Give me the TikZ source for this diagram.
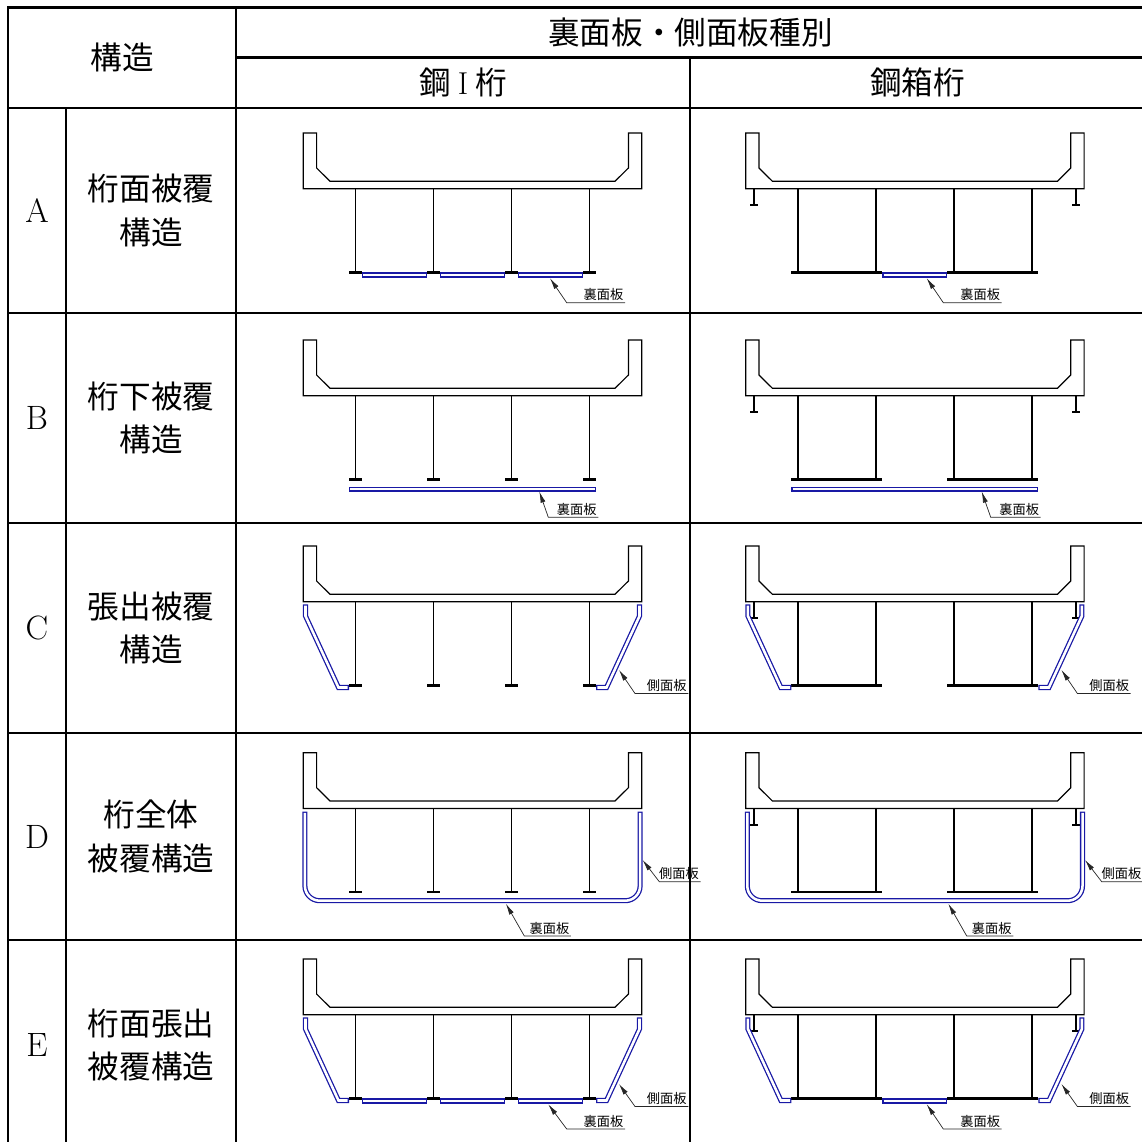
\documentclass[tikz,border=0pt]{standalone}
\usepackage{fontspec}
\newfontfamily\jp{Noto Sans CJK JP}
\usetikzlibrary{arrows.meta}
\definecolor{plateblue}{RGB}{25,25,165}

\begin{document}
\begin{tikzpicture}[x=0.025cm, y=-0.025cm,
    rule/.style={line width=1.7pt},
    deckline/.style={line width=0.85pt, line join=miter},
    web/.style={line width=1.25pt},
    flange/.style={line width=1.6pt},
    plate/.style={draw=plateblue, line width=3.6pt,
        postaction={draw=white, line width=1.8pt, shorten <=0.9pt, shorten >=0.9pt}},
    leader/.style={black!85, line width=0.5pt, -{Latex[length=8pt,width=3.6pt]}},
    tag/.style={font=\jp\fontsize{9.4}{10}\selectfont, inner sep=1pt, anchor=south east},
    big/.style={font=\jp\fontsize{22.5}{31}\selectfont, align=center},
    letter/.style={font=\fontsize{24}{28}\selectfont},
    deck/.pic={
        \draw[deckline] (-169.2,0) -- (-155.9,0) -- (-155.9,35) -- (-142.5,48.3)
            -- (142.5,48.3) -- (155.9,35) -- (155.9,0) -- (169.2,0)
            -- (169.2,55.7) -- (-169.2,55.7) -- cycle;
    },
    igirder/.pic={
        \foreach \x in {-117,-39,39,117} {
            \draw[web] (\x,55.7) -- (\x,139.5);
            \draw[flange] (\x-6.5,139.5) -- (\x+6.5,139.5);
        }
    },
    boxgirder/.pic={
        \foreach \x in {-117,-39,39,117}
            \draw[web] (\x,55.7) -- (\x,139.5);
        \draw[flange] (-123.5,139.5) -- (-32.5,139.5) (32.5,139.5) -- (123.5,139.5);
        \foreach \s in {-1,1} {
            \draw[web] (\s*161,55.7) -- (\s*161,72);
            \draw[flange] (\s*161-3.8,72) -- (\s*161+3.8,72);
        }
    }]
    \useasboundingbox (0,0) rectangle (1142,1142);
    \clip (0,0) rectangle (1142,1142);

    % Header
    \node[big] (hs) at (122,57.75) {構造};
    \node[big] (hk) at (690.5,32.5) {裏面板・側面板種別};
    \node[big] (hi) at (463,82.75) {鋼\hspace{5pt}{\rmfamily I}\hspace{5pt}桁};
    \node[big] (hb) at (917.5,82.75) {鋼箱桁};

    % Row labels
    \foreach \n/\t/\y in {A/桁面被覆\\構造/210.5, B/桁下被覆\\構造/418,
        C/張出被覆\\構造/628, D/桁全体\\被覆構造/836.5, E/桁面張出\\被覆構造/1045} {
        \node[letter] (r\n) at (37,\y) {\n};
        \node[big] (n\n) at (151,\y) {\t};
    }

    % Decks and girders
    \foreach \y in {133,340,546,752.7,959} {
        \pic at (472.5,\y) {deck};
        \pic at (472.5,\y) {igirder};
        \pic at (914.9,\y) {deck};
        \pic at (914.9,\y) {boxgirder};
    }

    % A: plates between the girders
    \begin{scope}[shift={(472.5,133)}]
        \foreach \a/\b in {-110.5/-45.5,-32.5/32.5,45.5/110.5}
            \draw[plate] (\a,142) -- (\b,142);
        \coordinate (tAi) at (77.5,145.3);
        \node[tag] (uAi) at (152.5,169.7) {裏面板};
        \draw[leader] (uAi.south east) -- (94.2,169.7) -- (tAi);
    \end{scope}
    \begin{scope}[shift={(914.9,133)}]
        \draw[plate] (-32.5,142) -- (32.5,142);
        \coordinate (tAb) at (11.8,145.3);
        \node[tag] (uAb) at (86.8,169.7) {裏面板};
        \draw[leader] (uAb.south east) -- (28.4,169.7) -- (tAb);
    \end{scope}

    % B: one plate under the girders
    \foreach \cx/\c in {472.5/i,914.9/b} {
        \begin{scope}[shift={(\cx,340)}]
            \draw[plate] (-123.5,149.2) -- (123.5,149.2);
            \coordinate (tB\c) at (66.8,151.5);
            \node[tag] (uB\c) at (125.8,177.3) {裏面板};
            \draw[leader] (uB\c.south east) -- (75.8,177.3) -- (tB\c);
        \end{scope}
    }

    % C: side plates
    \foreach \cx/\c in {472.5/i,914.9/b} {
        \begin{scope}[shift={(\cx,546)}]
            \foreach \s in {-1,1}
                \draw[plate] (\s*167,58.3) -- (\s*167,70) -- (\s*134,141.5) -- (\s*123.5,141.5);
            \coordinate (tC\c) at (146.5,124);
            \node[tag] (sC\c) at (215.8,147.5) {側面板};
            \draw[leader] (sC\c.south east) -- (162.5,147.5) -- (tC\c);
        \end{scope}
    }

    % D: plate round the whole girder
    \foreach \cx/\c in {472.5/i,914.9/b} {
        \begin{scope}[shift={(\cx,752.7)}]
            \draw[plate, rounded corners=10.5pt] (-167.6,59) -- (-167.6,148) -- (167.6,148) -- (167.6,59);
            \coordinate (sD\c) at (170.1,107.3);
            \node[tag] (lD\c) at (228,129) {側面板};
            \draw[leader] (lD\c.south east) -- (186.8,129) -- (sD\c);
            \coordinate (tD\c) at (33.4,151);
            \node[tag] (uD\c) at (98.4,183.3) {裏面板};
            \draw[leader] (uD\c.south east) -- (51.8,183.3) -- (tD\c);
        \end{scope}
    }

    % E: side plates and plates between the girders
    \foreach \cx/\c in {472.5/i,914.9/b} {
        \begin{scope}[shift={(\cx,959)}]
            \foreach \s in {-1,1}
                \draw[plate] (\s*167,58.3) -- (\s*167,70) -- (\s*134,141.5) -- (\s*123.5,141.5);
            \coordinate (tE\c) at (146.5,125);
            \node[tag] (sE\c) at (215.8,147.5) {側面板};
            \draw[leader] (sE\c.south east) -- (162.5,147.5) -- (tE\c);
        \end{scope}
    }
    \begin{scope}[shift={(472.5,959)}]
        \foreach \a/\b in {-110.5/-45.5,-32.5/32.5,45.5/110.5}
            \draw[plate] (\a,142) -- (\b,142);
        \coordinate (uEi) at (75.8,145.3);
        \node[tag] (lEi) at (152.5,170) {裏面板};
        \draw[leader] (lEi.south east) -- (94.2,170) -- (uEi);
    \end{scope}
    \begin{scope}[shift={(914.9,959)}]
        \draw[plate] (-32.5,142) -- (32.5,142);
        \coordinate (uEb) at (11.8,145.3);
        \node[tag] (lEb) at (86.8,170) {裏面板};
        \draw[leader] (lEb.south east) -- (28.4,170) -- (uEb);
    \end{scope}

    % Table rules
    \draw[rule] (8,7.5) rectangle (1145,1150);
    \draw[rule] (236,57.5) -- (1145,57.5);
    \foreach \y in {108,313,523,733,940}
        \draw[rule] (8,\y) -- (1145,\y);
    \draw[rule] (66,108) -- (66,1150);
    \draw[rule] (236,7.5) -- (236,1150);
    \draw[rule] (690,57.5) -- (690,1150);
\end{tikzpicture}
\end{document}
